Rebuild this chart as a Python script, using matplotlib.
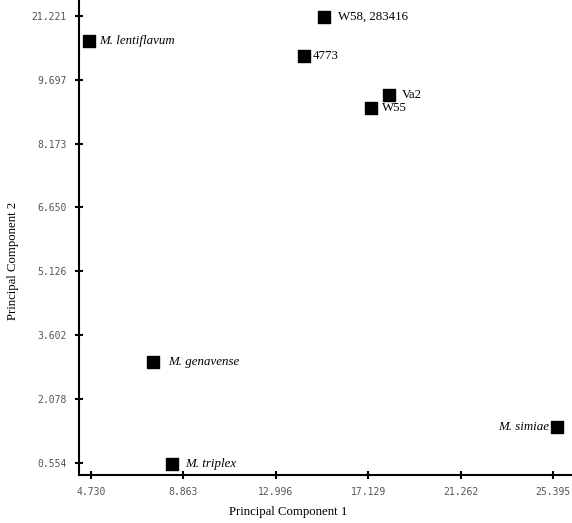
import matplotlib
matplotlib.use("Agg")
import matplotlib.pyplot as plt

# strains and their positions on the first two principal components
names = ["M. lentiflavum", "W58, 283416", "4773", "Va2", "W55",
         "M. genavense", "M. triplex", "M. simiae"]
pc1 = [4.64, 15.15, 14.26, 18.06, 17.25, 7.50, 8.35, 25.57]
pc2 = [10.63, 11.20, 10.27, 9.34, 9.03, 2.96, 0.53, 1.41]
italic = [True, False, False, False, False, True, True, True]

xticks = [4.730, 8.863, 12.996, 17.129, 21.262, 25.395]
xtick_labels = ["4.730", "8.863", "12.996", "17.129", "21.262", "25.395"]
yticks = [0.554, 2.078, 3.602, 5.126, 6.650, 8.173, 9.697, 11.221]
ytick_labels = ["0.554", "2.078", "3.602", "5.126", "6.650", "8.173", "9.697", "21.221"]

# label offsets (points) from the marker centre
label_off = {"M. lentiflavum": 7, "W58, 283416": 10, "4773": 6, "Va2": 9.5,
             "W55": 8, "M. genavense": 11, "M. triplex": 9.5, "M. simiae": -6}

fig = plt.figure(figsize=(5.72, 5.23), dpi=100)
ax = fig.add_axes([0.138, 0.092, 0.862, 0.908])

ax.scatter(pc1, pc2, marker="s", s=70, color="black", zorder=3)

for n, x, y, it in zip(names, pc1, pc2, italic):
    off = label_off[n]
    ax.annotate(n, (x, y), xytext=(off, 0), textcoords="offset points",
                ha="left" if off > 0 else "right", va="center", fontsize=9.3,
                fontstyle="italic" if it else "normal",
                family="Liberation Serif")

ax.set_xlim(4.19, 26.24)
ax.set_ylim(0.27, 11.6)
ax.set_xticks(xticks)
ax.set_xticklabels(xtick_labels)
ax.set_yticks(yticks)
ax.set_yticklabels(ytick_labels)

for side in ("top", "right"):
    ax.spines[side].set_visible(False)
for side in ("left", "bottom"):
    ax.spines[side].set_linewidth(1.5)

ax.tick_params(direction="inout", length=6, width=1.5, labelsize=7,
               labelcolor="#555555", pad=6)
for lab in ax.get_xticklabels() + ax.get_yticklabels():
    lab.set_family("DejaVu Sans Mono")

ax.set_xlabel("Principal Component 1", fontsize=9.2, family="Liberation Serif")
ax.set_ylabel("Principal Component 2", fontsize=9.2, family="Liberation Serif")
ax.xaxis.set_label_coords(0.424, -0.065)
ax.yaxis.set_label_coords(-0.122, 0.45)

fig.savefig("out.png", dpi=100)
